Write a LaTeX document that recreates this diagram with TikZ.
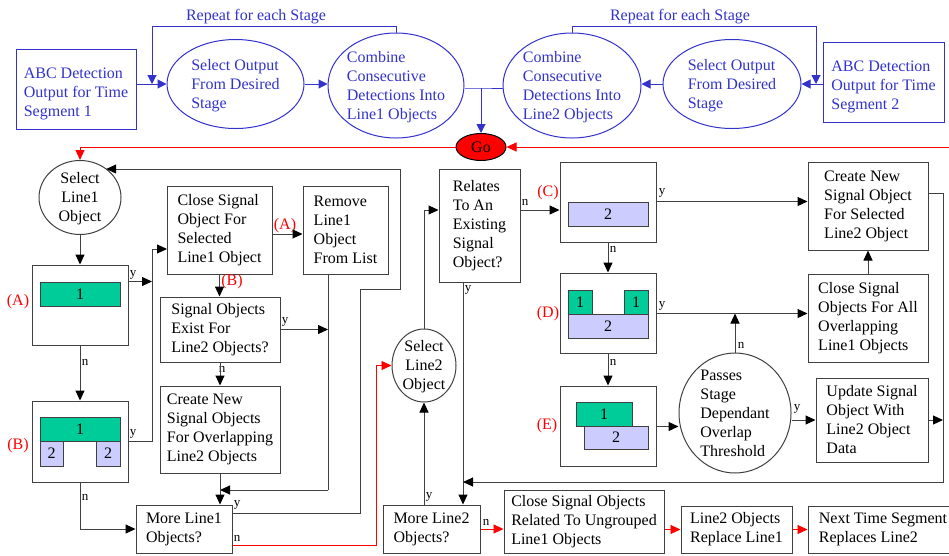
\documentclass[tikz,border=0pt]{standalone}
\usepackage{fontspec}
\setmainfont{Liberation Serif}
\usetikzlibrary{arrows.meta,shapes.geometric}
\definecolor{bl}{RGB}{51,51,204}
\definecolor{lc}{RGB}{64,64,64}
\definecolor{gr}{RGB}{0,204,153}
\definecolor{lav}{RGB}{204,204,255}
\definecolor{rd}{RGB}{255,0,0}
\newcommand\ztext[2][l]{\smash{\makebox[0pt]{\raisebox{-6pt}{\begin{tabular}{@{}#1@{}}#2\end{tabular}}}}}
\newcommand\ztextd[2][l]{\smash{\makebox[0pt]{\raisebox{-9pt}{\begin{tabular}{@{}#1@{}}#2\end{tabular}}}}}
\tikzset{
  base/.style={font=\fontsize{16}{19}\selectfont},
  bbox/.style={base, draw=bl, text=bl, line width=1pt, rectangle, inner sep=0pt, align=left},
  bell/.style={base, draw=bl, text=bl, line width=1pt, ellipse, inner sep=0pt},
  kbox/.style={base, draw=lc, text=black, line width=1pt, rectangle, inner sep=0pt, align=left},
  kell/.style={base, draw=lc, text=black, line width=1pt, ellipse, inner sep=0pt},
  gbar/.style={base, draw=lc, fill=gr, line width=1pt, rectangle, inner sep=0pt},
  lbar/.style={base, draw=lc, fill=lav, line width=1pt, rectangle, inner sep=0pt},
  lab/.style={font=\fontsize{13}{15}\selectfont, inner sep=0pt},
  rlab/.style={base, text=rd, inner sep=0pt},
  kline/.style={draw=lc, line width=1pt},
  karrow/.style={draw=lc, line width=1pt, -{Triangle[length=10pt,width=9pt,color=black]}},
  barrow/.style={draw=bl, line width=1pt, -{Triangle[length=9pt,width=9pt]}},
  bline/.style={draw=bl, line width=1pt},
  rarrow/.style={draw=rd, line width=0.9pt, -{Triangle[length=10pt,width=9pt]}},
}
\begin{document}
\begin{tikzpicture}[x=1pt,y=-1pt]
\clip (0,0) rectangle (949,555);
\fill[white] (0,0) rectangle (949,555);

% ---------- top row ----------
\node[bbox, minimum width=120pt, minimum height=80pt] (abc1) at (76,89) {\ztextd{ABC Detection\\Output for Time\\Segment 1}};
\node[bell, minimum width=137pt, minimum height=89pt] (sel1) at (235.5,84) {\ztext{Select Output\\From Desired\\Stage}};
\node[bell, minimum width=136pt, minimum height=105pt] (comb1) at (396,85.5) {\ztext{Combine\\Consecutive\\Detections Into\\Line1 Objects}};
\node[bell, minimum width=138pt, minimum height=105pt] (comb2) at (572,85.5) {\ztext{Combine\\Consecutive\\Detections Into\\Line2 Objects}};
\node[bell, minimum width=138pt, minimum height=89pt] (sel2) at (732,84) {\ztext{Select Output\\From Desired\\Stage}};
\node[bbox, minimum width=121pt, minimum height=80pt] (abc2) at (883.5,82) {\ztextd{ABC Detection\\Output for Time\\Segment 2}};
\node[base, draw=black, fill=rd, line width=1pt, ellipse, inner sep=0pt, minimum width=50pt, minimum height=27pt] (go) at (481,147) {\ztext[c]{Go}};

\node[base, text=bl, inner sep=0pt] (rep1) at (256,17) {Repeat for each Stage};
\node[base, text=bl, inner sep=0pt] (rep2) at (680,17) {Repeat for each Stage};

\coordinate (rp1) at (152,26);
\coordinate (rp2) at (816,26);
\coordinate (j) at (481,88);

\draw[barrow] (abc1.east |- sel1.west) -- (sel1.west);
\draw[barrow] (sel1.east) -- (comb1.west |- sel1.east);
\draw[barrow] (comb1.north) |- (rp1) -- (rp1 |- sel1.west);
\draw[barrow] (abc2.west |- sel2.east) -- (sel2.east);
\draw[barrow] (sel2.west) -- (comb2.east |- sel2.west);
\draw[barrow] (comb2.north) |- (rp2) -- (rp2 |- sel2.east);
\draw[bline] (comb1.east |- j) -- (j) -- (comb2.west |- j);
\draw[barrow] (j) -- (go.north);

% ---------- left column ----------
\node[kell, minimum width=82pt, minimum height=74pt] (selL1) at (80,197.5) {\ztext[c]{Select\\Line1\\Object}};
\node[kbox, minimum width=96pt, minimum height=80pt] (boxA) at (80,305) {};
\node[gbar, minimum width=80pt, minimum height=24pt] (barA1) at (80,294) {1};
\node[rlab] (labA) at (18,302) {(A)};
\node[kbox, minimum width=96pt, minimum height=81pt] (boxB) at (80,441.5) {};
\node[gbar, minimum width=80pt, minimum height=24pt] (barB1) at (80,429) {1};
\node[lbar, minimum width=23pt, minimum height=25pt] (barB2a) at (51.5,453.5) {2};
\node[lbar, minimum width=24pt, minimum height=25pt] (barB2b) at (108,453.5) {2};
\node[rlab] (labB) at (18,446) {(B)};

\node[kbox, minimum width=105pt, minimum height=88pt] (closeSel) at (219.5,230) {Close Signal\\Object For\\Selected\\Line1 Object};
\node[kbox, minimum width=85pt, minimum height=88pt] (remove) at (345.5,230) {Remove\\Line1\\Object\\From List};
\node[kbox, minimum width=120pt, minimum height=65pt] (sigExist) at (220,329.5) {Signal Objects\\Exist For\\Line2 Objects?};
\node[kbox, minimum width=120pt, minimum height=87pt] (createNew) at (220,429.5) {Create New\\Signal Objects\\For Overlapping\\Line2 Objects};
\node[kbox, minimum width=96pt, minimum height=48pt] (more1) at (184,529) {More Line1\\Objects?};

\node[rlab] (labA2) at (285,226) {(A)};
\node[rlab] (labB2) at (232,282) {(B)};
\node[lab] (yA) at (133,275) {y};
\node[lab] (nA) at (85,362) {n};
\node[lab] (yB) at (133,434) {y};
\node[lab] (nB) at (85,497) {n};
\node[lab] (yS) at (285,322) {y};
\node[lab] (nS) at (222,369) {n};
\node[lab] (yM1) at (237,505) {y};
\node[lab] (nM1) at (237,538) {n};

\coordinate (vL) at (152,441);
\coordinate (cs) at (167,249);
\coordinate (vR) at (328,490);
\coordinate (o1) at (360,513);
\coordinate (o2) at (360,289);
\coordinate (o3) at (400,289);
\coordinate (o4) at (400,169);
\coordinate (rn1) at (376,545);
\coordinate (gL) at (80,147);
\coordinate (gR) at (949,147);

\draw[rarrow] (go.west) -- (gL) -- (selL1.north);
\draw[rarrow] (gR) -- (go.east);

\draw[karrow] (selL1.south) -- (boxA.north);
\draw[karrow] (boxA.east |- barA1.north) -- (vL |- barA1.north);
\draw[karrow] (boxB.east |- vL) -- (vL) |- (cs);
\draw[karrow] (closeSel.east |- 0,234) -- (remove.west |- 0,234);
\draw[karrow] (closeSel.south) -- (closeSel.south |- sigExist.north);
\draw[karrow] (sigExist.east) -- (sigExist.east -| vR);
\draw[kline] (remove.south -| vR) -- (vR);
\draw[karrow] (vR) -- (createNew.south |- vR);
\draw[karrow] (sigExist.south) -- (createNew.north);
\draw[karrow] (createNew.south) -- (createNew.south |- more1.north);
\draw[karrow] (boxA.south) -- (boxB.north);
\draw[karrow] (boxB.south) |- (more1.west);
\draw[karrow] (more1.east |- o1) -- (o1) -- (o2) -- (o3) -- (o4) -- (o4 -| selL1.48);

% ---------- middle ----------
\node[kell, minimum width=64pt, minimum height=73pt] (selL2) at (424,365.5) {\ztext[c]{Select\\Line2\\Object}};
\node[kbox, minimum width=81pt, minimum height=113pt] (relates) at (479.5,225.5) {Relates\\To An\\Existing\\Signal\\Object?};
\node[kbox, minimum width=97pt, minimum height=48pt] (more2) at (431.5,529) {More Line2\\Objects?};
\node[kbox, minimum width=160pt, minimum height=63pt] (closeRel) at (584,521.5) {Close Signal Objects\\Related To Ungrouped\\Line1 Objects};
\node[kbox, minimum width=111pt, minimum height=47pt] (l2rep) at (736.5,529.5) {Line2 Objects\\Replace Line1};
\node[kbox, minimum width=150pt, minimum height=47pt] (nextT) at (883,529.5) {Next Time Segment\\Replaces Line2};

\node[lab] (yR) at (468,290) {y};
\node[lab] (nR) at (525,202) {n};
\node[lab] (yM2) at (429,497) {y};
\node[lab] (nM2) at (486,522) {n};

\draw[rarrow] (more1.east |- rn1) -- (rn1) |- (selL2.west);

% ---------- right cluster ----------
\node[kbox, minimum width=96pt, minimum height=80pt] (boxC) at (608,202) {};
\node[lbar, minimum width=80pt, minimum height=24pt] (barC) at (608,214) {2};
\node[rlab] (labC) at (548,193) {(C)};
\node[kbox, minimum width=96pt, minimum height=80pt] (boxD) at (608,313) {};
\node[gbar, minimum width=24pt, minimum height=24pt] (barD1a) at (580,302) {1};
\node[gbar, minimum width=24pt, minimum height=24pt] (barD1b) at (636,302) {1};
\node[lbar, minimum width=80pt, minimum height=24pt] (barD2) at (608,326) {2};
\node[rlab] (labD) at (548,314) {(D)};
\node[kbox, minimum width=96pt, minimum height=80pt] (boxE) at (608,426) {};
\node[gbar, minimum width=56pt, minimum height=24pt] (barE1) at (604,414) {1};
\node[lbar, minimum width=64pt, minimum height=23pt] (barE2) at (616,437.5) {2};
\node[rlab] (labE) at (547,426) {(E)};

\node[kbox, minimum width=120pt, minimum height=88pt] (createSel) at (868,206) {Create New\\Signal Object\\For Selected\\Line2 Object};
\node[kbox, minimum width=120pt, minimum height=88pt] (closeAll) at (868,318) {Close Signal\\Objects For All\\Overlapping\\Line1 Objects};
\node[kell, minimum width=112pt, minimum height=120pt] (passes) at (735,413) {\ztext{Passes\\Stage\\Dependant\\Overlap\\Threshold}};
\node[kbox, minimum width=112pt, minimum height=84pt] (update) at (872,420) {Update Signal\\Object With\\Line2 Object\\Data};

\node[lab] (yC) at (662,193) {y};
\node[lab] (nC) at (613,249) {n};
\node[lab] (yD) at (662,306) {y};
\node[lab] (nD) at (613,362) {n};
\node[lab] (nP) at (741,345) {n};
\node[lab] (yP) at (797,409) {y};

\coordinate (ymid) at (463,482);
\coordinate (rtop) at (943,193);
\coordinate (rbot) at (943,482);

\draw[karrow] (selL2.north) |- (relates.west |- 0,210);
\draw[karrow] (relates.east |- 0,210) -- (boxC.west |- 0,210);
\draw[karrow] (relates.south -| ymid) -- (more2.north -| ymid);
\draw[karrow] (createSel.east |- rtop) -- (rtop) -- (rbot) -- (ymid);
\draw[karrow] (more2.north -| selL2.south) -- (selL2.south);
\draw[rarrow] (more2.east) -- (closeRel.west |- more2.east);
\draw[rarrow] (closeRel.east |- l2rep.west) -- (l2rep.west);
\draw[rarrow] (l2rep.east) -- (nextT.west |- l2rep.east);

\draw[karrow] (boxC.east |- barC.north) -- (createSel.west |- barC.north);
\draw[karrow] (boxC.south) -- (boxD.north);
\draw[karrow] (boxD.east |- barD2.north) -- (closeAll.west |- barD2.north);
\draw[karrow] (boxD.south) -- (boxE.north);
\draw[karrow] (boxE.east |- barE1.south) -- (passes.west |- barE1.south);
\draw[karrow] (passes.north) -- (passes.north |- barD2.north);
\draw[karrow] (passes.east |- update.west) -- (update.west);
\draw[karrow] (closeAll.north) -- (createSel.south);
\draw[karrow] (update.east) -- (update.east -| rtop);
\end{tikzpicture}
\end{document}
